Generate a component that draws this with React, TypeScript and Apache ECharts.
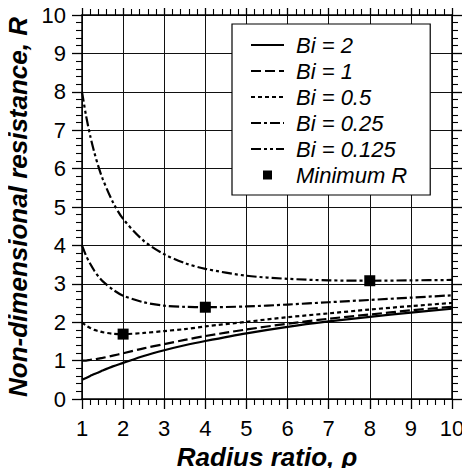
import React, { useEffect, useRef } from "react";
import * as echarts from "echarts";

const RHO = [1, 1.1, 1.2, 1.3, 1.4, 1.5, 1.75, 2, 2.5, 3, 3.5, 4, 5, 6, 7, 8, 9, 10];
const BI_2 = [0.5, 0.55, 0.6, 0.65, 0.69, 0.74, 0.85, 0.94, 1.12, 1.27, 1.4, 1.51, 1.71, 1.88, 2.02, 2.14, 2.25, 2.35];
const BI_1 = [1.0, 1.0, 1.02, 1.03, 1.05, 1.07, 1.13, 1.19, 1.32, 1.43, 1.54, 1.64, 1.81, 1.96, 2.09, 2.2, 2.31, 2.4];
const BI_05 = [2.0, 1.91, 1.85, 1.8, 1.77, 1.74, 1.7, 1.69, 1.72, 1.77, 1.82, 1.89, 2.01, 2.13, 2.23, 2.33, 2.42, 2.5];
const BI_025 = [4.0, 3.73, 3.52, 3.34, 3.19, 3.07, 2.85, 2.69, 2.52, 2.43, 2.4, 2.39, 2.41, 2.46, 2.52, 2.58, 2.64, 2.7];
const BI_0125 = [8.0, 7.37, 6.85, 6.42, 6.05, 5.74, 5.13, 4.69, 4.12, 3.77, 3.54, 3.39, 3.21, 3.13, 3.09, 3.08, 3.09, 3.1];
const MIN_X = [2, 4, 8];
const MIN_Y = [1.69, 2.39, 3.08];
const SERIES_NAMES = ["Bi = 2", "Bi = 1", "Bi = 0.5", "Bi = 0.25", "Bi = 0.125", "Minimum R"];
const X_TICKS = [1, 2, 3, 4, 5, 6, 7, 8, 9, 10];
const Y_TICKS = [0, 1, 2, 3, 4, 5, 6, 7, 8, 9, 10];

const FONT = "Liberation Sans";

function makeAxis(extra: any) {
  return {
    type: "value",
    interval: 1,
    axisLine: { show: true, onZero: false, lineStyle: { color: "#000", width: 1.5 } },
    axisTick: { show: true, inside: false, length: 10, lineStyle: { color: "#000", width: 1.3 } },
    minorTick: { show: true, splitNumber: 5, length: 6, lineStyle: { color: "#000", width: 1.1 } },
    splitLine: { show: false },
    ...extra,
  };
}

export default function App() {
  const ref = useRef<HTMLDivElement>(null);
  useEffect(() => {
    if (!ref.current) return;
    const chart = echarts.init(ref.current, null, { renderer: "svg" });
    const lineSeries = [BI_2, BI_1, BI_05, BI_025, BI_0125];
    const dashes: any[] = ["solid", [10, 4], [4, 3], [10, 3, 3, 3], [10, 3, 3, 3, 3, 3]];
    const series: any[] = lineSeries.map((vals, i) => ({
      name: SERIES_NAMES[i],
      type: "line",
      data: RHO.map((r, j) => [r, vals[j]]),
      smooth: 0.3,
      symbol: "none",
      lineStyle: { color: "#000", width: 2.2, type: dashes[i] },
      itemStyle: { color: "#000", opacity: 0 },
      z: 3,
    }));
    series.push({
      name: SERIES_NAMES[5],
      type: "scatter",
      data: MIN_X.map((x, j) => [x, MIN_Y[j]]),
      symbol: "rect",
      symbolSize: 11,
      itemStyle: { color: "#000", opacity: 1 },
      z: 5,
    });
    const labelStyle = { color: "#000", fontFamily: FONT, fontSize: 22 };
    const nameStyle = { color: "#000", fontFamily: FONT, fontSize: 26, fontWeight: "bold", fontStyle: "italic" };
    const gridLine = { show: true, lineStyle: { color: "#111", width: 1 } };
    const option: any = {
      animation: false,
      backgroundColor: "#fff",
      grid: { left: 82, top: 15, width: 370, height: 384, containLabel: false, outerBoundsMode: "none" },
      xAxis: [
        makeAxis({
          position: "bottom",
          min: X_TICKS[0],
          max: X_TICKS[X_TICKS.length - 1],
          name: "Radius ratio, ρ",
          nameLocation: "middle",
          nameGap: 43,
          nameTextStyle: nameStyle,
          axisLabel: { ...labelStyle, margin: 18 },
          splitLine: gridLine,
        }),
        makeAxis({
          position: "top",
          min: X_TICKS[0],
          max: X_TICKS[X_TICKS.length - 1],
          axisLabel: { show: false },
        }),
      ],
      yAxis: [
        makeAxis({
          position: "left",
          min: Y_TICKS[0],
          max: Y_TICKS[Y_TICKS.length - 1],
          name: "Non-dimensional resistance, R",
          nameLocation: "middle",
          nameGap: 42,
          nameTextStyle: nameStyle,
          axisLabel: { ...labelStyle, margin: 16 },
          splitLine: gridLine,
        }),
        makeAxis({
          position: "right",
          min: Y_TICKS[0],
          max: Y_TICKS[Y_TICKS.length - 1],
          axisLabel: { show: false },
        }),
      ],
      legend: {
        orient: "vertical",
        left: 232,
        top: 24,
        data: SERIES_NAMES.map((n, i) =>
          i === 5
            ? { name: n, icon: "path://M0,0L10,0L10,10L0,10Z", itemStyle: { color: "#000", opacity: 1 } }
            : { name: n }
        ),
        backgroundColor: "#fff",
        borderColor: "#000",
        borderWidth: 1.2,
        borderRadius: 0,
        padding: [10, 23, 9, 18],
        itemWidth: 33,
        itemHeight: 9,
        itemGap: 4,
        symbolKeepAspect: true,
        textStyle: { color: "#000", fontFamily: FONT, fontSize: 22, fontStyle: "italic", padding: [0, 0, 0, 7] },
        selectedMode: false,
      },
      series,
    };
    chart.setOption(option);
    return () => chart.dispose();
  }, []);
  return <div ref={ref} style={{ width: 470, height: 476, margin: -8 }} />;
}
